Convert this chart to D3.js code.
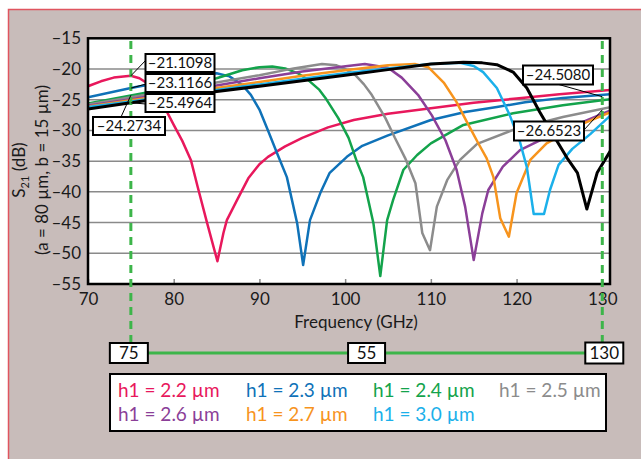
<!DOCTYPE html>
<html>
<head>
<meta charset="utf-8">
<script src="https://cdnjs.cloudflare.com/ajax/libs/d3/7.8.5/d3.min.js"></script>
<style>
  body { margin: 0; background: #fff; }
  svg { display: block; font-family: Lato, "Open Sans", sans-serif; }
</style>
</head>
<body>
<div id="chart"></div>
<script>
// frequency ticks and S21 ticks
var xTicks = [70, 80, 90, 100, 110, 120, 130];
var yTicks = [-15, -20, -25, -30, -35, -40, -45, -50, -55];
var yGrid = [-20, -25, -30, -35, -40, -45, -50];

// series (GHz, dB)
var f22 = [70, 71.5, 73, 75, 76, 77, 78, 79, 80, 81, 82, 82.8, 83.9, 85.1, 85.8, 86.2, 87.4, 88.7, 90, 91, 93, 95, 98, 101, 105, 110, 115, 120, 125, 131];
var s22 = [-22.8, -22.0, -21.4, -21.1, -21.5, -22.4, -24.0, -26.4, -29.1, -31.7, -34.8, -39.2, -45.1, -51.3, -46.7, -44.6, -41.3, -37.8, -35.5, -34.3, -32.6, -31.2, -29.5, -28.3, -27.3, -26.4, -25.5, -24.8, -24.1, -23.4];

var f23 = [70, 75, 80, 83, 85, 86.5, 88, 89, 90, 91, 92, 93.2, 94.4, 95.1, 95.9, 97.1, 98.2, 100.2, 102, 105, 110, 114, 117.7, 121, 125.4, 131];
var s23 = [-24.6, -23.1, -21.8, -21.0, -20.7, -21.2, -22.6, -24.2, -26.6, -30.0, -33.5, -37.6, -45.1, -51.9, -44.6, -40.2, -36.9, -34.3, -32.5, -30.8, -28.3, -27.0, -26.2, -25.4, -24.7, -24.1];

var f24 = [70, 75, 80, 85, 88, 90, 91.5, 93, 94.5, 95.7, 97, 97.7, 99.2, 100.4, 101.4, 102.1, 103.3, 104.1, 104.9, 105.6, 106.8, 108.4, 110, 113.8, 119.6, 125.4, 131];
var s24 = [-25.6, -24.3, -23.0, -21.5, -20.2, -19.7, -19.6, -19.9, -20.7, -21.8, -23.4, -24.7, -28.0, -31.2, -35.2, -37.6, -45.1, -53.7, -44.6, -41.3, -36.4, -34.0, -32.1, -29.1, -27.2, -25.9, -24.9];

var f25 = [70, 75, 80, 85, 90, 94, 97.3, 99, 100, 101.2, 102.2, 103.1, 104.7, 105.8, 107, 108.2, 109, 109.9, 110.7, 111.9, 113.4, 115.4, 119.6, 125.4, 131];
var s25 = [-25.8, -24.6, -23.4, -22.2, -21.0, -19.9, -19.2, -19.4, -20.0, -21.0, -22.5, -24.2, -28.0, -31.2, -34.5, -38.6, -46.7, -49.5, -42.4, -38.1, -34.8, -32.2, -29.9, -27.8, -26.2];

var f26 = [70, 75, 80, 85, 90, 95, 100.3, 102.3, 105, 106.6, 108.5, 110.1, 111.7, 113, 114, 115, 116, 116.7, 118.4, 120.4, 123.5, 127.4, 131];
var s26 = [-26.0, -24.9, -23.8, -22.7, -21.5, -20.4, -19.5, -19.2, -19.8, -21.4, -24.2, -27.5, -31.6, -36.4, -42.4, -51.1, -43.5, -39.7, -35.9, -33.2, -31.1, -28.8, -26.7];

var f27 = [70, 75, 80, 85, 90, 95, 100, 105, 108.2, 109.7, 111.5, 113, 114.2, 115.5, 116.5, 117.3, 118.1, 119.1, 120, 121.6, 123.5, 127.4, 131];
var s27 = [-26.1, -25.1, -24.1, -23.1, -22.1, -21.1, -20.2, -19.4, -19.2, -19.7, -22.2, -25.4, -28.6, -32.0, -34.5, -37.6, -44.3, -47.3, -40.2, -34.8, -32.1, -29.1, -27.0];

var f30 = [70, 75, 80, 85, 90, 95, 100, 105, 110, 113.4, 115, 116.1, 117.7, 119.2, 120.4, 121.2, 122, 123.2, 123.9, 124.9, 126.5, 128.6, 131];
var s30 = [-26.2, -25.3, -24.3, -23.4, -22.5, -21.6, -20.7, -19.9, -19.2, -19.0, -19.5, -20.5, -23.1, -27.5, -31.9, -36.0, -43.6, -43.6, -39.7, -35.6, -33.0, -30.6, -27.5];

var fBlack = [70, 75, 80, 90, 100, 105, 110, 113.8, 116, 117.7, 119.6, 121.2, 122.7, 124.3, 125.9, 127.1, 128.2, 129.4, 131];
var sBlack = [-26.5, -25.5, -24.5, -22.8, -21.0, -20.1, -19.2, -18.9, -19.0, -19.3, -20.5, -23.1, -27.0, -30.8, -34.5, -36.9, -42.8, -36.9, -33.2];

var seriesNames = ["h1 = 2.2 µm", "h1 = 2.3 µm", "h1 = 2.4 µm", "h1 = 2.5 µm", "h1 = 2.6 µm", "h1 = 2.7 µm", "h1 = 3.0 µm", ""];
var seriesColors = ["#e8185c", "#0f72b8", "#13a34b", "#8c8c8c", "#8b3f98", "#f7941d", "#1bb0ea", "#000000"];
var seriesF = [f22, f23, f24, f25, f26, f27, f30, fBlack];
var seriesS = [s22, s23, s24, s25, s26, s27, s30, sBlack];

// callout values
var leftCallouts = [-21.1098, -23.1166, -25.4964, -24.2734];
var rightCallouts = [-24.5080, -26.6523];
var bandMarks = [75, 130];
var bandWidth = "55";

var width = 641, height = 459;

var svg = d3.select("#chart").append("svg")
    .attr("width", width)
    .attr("height", height);

// background panel with red top/left edge
svg.append("rect")
    .attr("x", 8).attr("y", 9)
    .attr("width", width - 8).attr("height", height - 9)
    .attr("fill", "#c8bcba");
svg.append("path")
    .attr("d", "M8.5," + height + "V9.5H" + width)
    .attr("fill", "none")
    .attr("stroke", "#e0555f")
    .attr("stroke-width", 1.5);

var x = d3.scaleLinear().domain([70, 130.9]).range([88, 610]);
var y = d3.scaleLinear().domain([-55, -15]).range([284, 38.3]);

var dash = function (s) { return s.replace("-", "\u2013"); };

// plot area
svg.append("rect")
    .attr("x", x(70)).attr("y", y(-15))
    .attr("width", x(130.9) - x(70)).attr("height", y(-55) - y(-15))
    .attr("fill", "#fff");

// gridlines
svg.append("g").selectAll("line")
    .data(yGrid)
    .enter().append("line")
    .attr("x1", x(70)).attr("x2", x(130.9))
    .attr("y1", function (d) { return y(d); })
    .attr("y2", function (d) { return y(d); })
    .attr("stroke", "#8a8a8a")
    .attr("stroke-width", 1.5);

// x axis with inner ticks
var xAxis = svg.append("g")
    .attr("transform", "translate(0," + y(-55) + ")")
    .call(d3.axisBottom(x).tickValues(xTicks).tickSize(-5).tickPadding(9));
xAxis.select(".domain").remove();
xAxis.selectAll(".tick line").attr("stroke", "#8a8a8a").attr("stroke-width", 1.5);
xAxis.selectAll("text").attr("font-size", 17).attr("fill", "#1a1a1a")
    .attr("font-family", "Lato, sans-serif");

// y axis
var yAxis = svg.append("g")
    .attr("transform", "translate(" + x(70) + ",0)")
    .call(d3.axisLeft(y).tickValues(yTicks).tickSize(0).tickPadding(7)
        .tickFormat(function (d) { return dash(String(d)); }));
yAxis.select(".domain").remove();
yAxis.selectAll("text").attr("font-size", 17).attr("fill", "#1a1a1a")
    .attr("font-family", "Lato, sans-serif");

// clip for curves
svg.append("clipPath").attr("id", "plotClip")
    .append("rect")
    .attr("x", x(70)).attr("y", y(-15))
    .attr("width", x(130.9) - x(70)).attr("height", y(-55) - y(-15));

var line = d3.line()
    .x(function (d) { return x(d[0]); })
    .y(function (d) { return y(d[1]); })
    .curve(d3.curveLinear);

var curves = svg.append("g").attr("clip-path", "url(#plotClip)");
seriesF.forEach(function (fs, i) {
    var pts = fs.map(function (f, j) { return [f, seriesS[i][j]]; });
    curves.append("path")
        .datum(pts)
        .attr("d", line)
        .attr("fill", "none")
        .attr("stroke", seriesColors[i])
        .attr("stroke-width", i === 7 ? 3 : 2.5)
        .attr("stroke-linejoin", "round");
});

// frame
svg.append("rect")
    .attr("x", x(70)).attr("y", y(-15))
    .attr("width", x(130.9) - x(70)).attr("height", y(-55) - y(-15))
    .attr("fill", "none")
    .attr("stroke", "#000")
    .attr("stroke-width", 2.5);

// green dashed band markers
svg.append("g").selectAll("line")
    .data(bandMarks)
    .enter().append("line")
    .attr("x1", function (d) { return x(d); })
    .attr("x2", function (d) { return x(d); })
    .attr("y1", 41).attr("y2", 343)
    .attr("stroke", "#3db54a")
    .attr("stroke-width", 3)
    .attr("stroke-dasharray", "8,6");

// band span line and boxes
var bandY = 353;
svg.append("line")
    .attr("x1", x(75)).attr("x2", x(130))
    .attr("y1", bandY).attr("y2", bandY)
    .attr("stroke", "#3db54a").attr("stroke-width", 3);

function box(cx, cy, w, h, label, size) {
    var g = svg.append("g");
    g.append("rect")
        .attr("x", cx - w / 2).attr("y", cy - h / 2)
        .attr("width", w).attr("height", h)
        .attr("fill", "#fff").attr("stroke", "#000").attr("stroke-width", 2);
    g.append("text")
        .attr("x", cx).attr("y", cy)
        .attr("dy", "0.36em")
        .attr("text-anchor", "middle")
        .attr("font-size", size)
        .attr("fill", "#111")
        .text(label);
}

box(x(75) - 2, bandY, 38, 20, String(bandMarks[0]), 17);
box((x(75) + x(130)) / 2, bandY, 37, 20, bandWidth, 17);
box(x(130) + 2, bandY, 38, 21, String(bandMarks[1]), 17);

// callouts at 75 GHz
var leftBoxes = [[180, 63], [180, 83], [180, 103], [129, 126]];
var leftStarts = [[146, 60], [146, 84], [146, 104], [121, 117]];
leftCallouts.forEach(function (v, i) {
    svg.append("line")
        .attr("x1", leftStarts[i][0]).attr("y1", leftStarts[i][1])
        .attr("x2", x(75)).attr("y2", y(v))
        .attr("stroke", "#000").attr("stroke-width", 1);
});
leftCallouts.forEach(function (v, i) {
    box(leftBoxes[i][0], leftBoxes[i][1], i === 3 ? 72 : 69, 18, dash(v.toFixed(4)), 15);
});

// callouts at 130 GHz
var rightBoxes = [[558, 75], [549, 131]];
var rightStarts = [[557, 84], [584, 130]];
rightCallouts.forEach(function (v, i) {
    svg.append("line")
        .attr("x1", rightStarts[i][0]).attr("y1", rightStarts[i][1])
        .attr("x2", x(130)).attr("y2", y(v))
        .attr("stroke", "#000").attr("stroke-width", 1);
});
rightCallouts.forEach(function (v, i) {
    box(rightBoxes[i][0], rightBoxes[i][1], 70, 19, dash(v.toFixed(4)), 15);
});

// axis titles
svg.append("text")
    .attr("x", 356).attr("y", 328)
    .attr("text-anchor", "middle")
    .attr("font-size", 17)
    .attr("fill", "#1a1a1a")
    .text("Frequency (GHz)");

var yt = svg.append("text")
    .attr("transform", "translate(25,170) rotate(-90)")
    .attr("text-anchor", "middle")
    .attr("font-size", 17)
    .attr("fill", "#1a1a1a");
yt.append("tspan").text("S");
yt.append("tspan").attr("font-size", 11).attr("dy", 4).text("21");
yt.append("tspan").attr("dy", -4).text(" (dB)");

svg.append("text")
    .attr("transform", "translate(48,170) rotate(-90)")
    .attr("text-anchor", "middle")
    .attr("font-size", 17)
    .attr("fill", "#1a1a1a")
    .text("(a = 80 µm, b = 15 µm)");

// legend
svg.append("rect")
    .attr("x", 110).attr("y", 374)
    .attr("width", 496).attr("height", 57)
    .attr("fill", "#fff").attr("stroke", "#000").attr("stroke-width", 2);

var legCols = [118, 246, 373, 499];
var legRows = [397, 421];
svg.append("g").selectAll("text")
    .data(seriesNames.filter(function (n) { return n !== ""; }))
    .enter().append("text")
    .attr("x", function (d, i) { return legCols[i % 4]; })
    .attr("y", function (d, i) { return legRows[Math.floor(i / 4)]; })
    .attr("font-size", 19)
    .attr("fill", function (d, i) { return seriesColors[i]; })
    .text(function (d) { return d; });
</script>
</body>
</html>
